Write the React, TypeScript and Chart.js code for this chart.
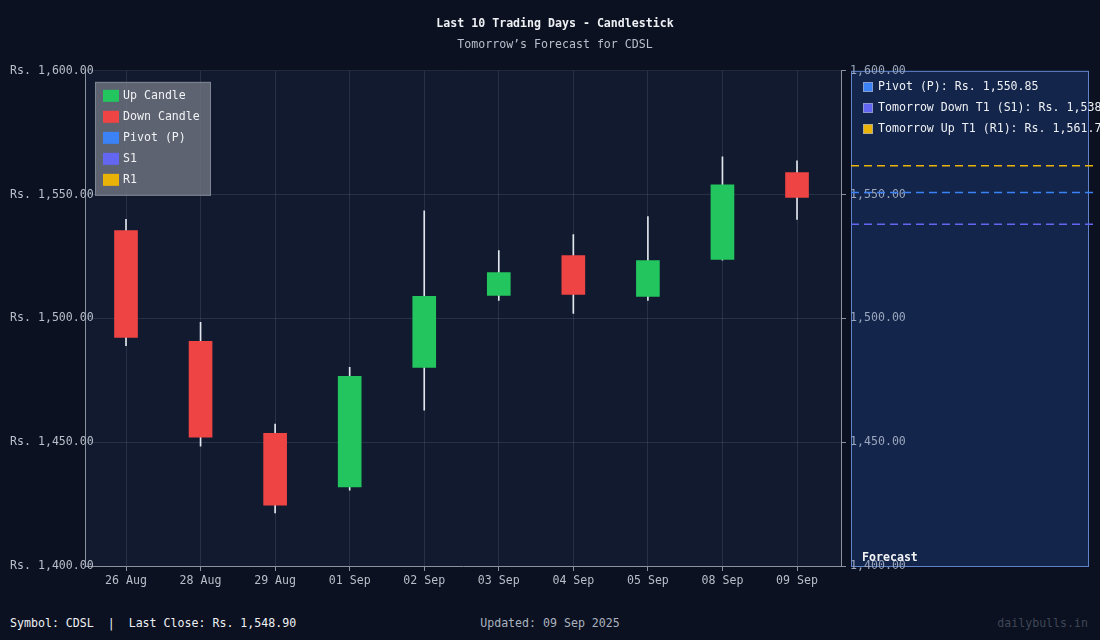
import React, { useEffect, useRef } from "react";
import { Chart, registerables } from "chart.js";

Chart.register(...registerables);

const FONT = '"DejaVu Sans Mono", monospace';
const FS = 11.6;

const dates = ["26 Aug", "28 Aug", "29 Aug", "01 Sep", "02 Sep", "03 Sep", "04 Sep", "05 Sep", "08 Sep", "09 Sep"];
const opens = [1535.5, 1490.7, 1453.6, 1431.9, 1480.2, 1509.3, 1525.4, 1508.9, 1523.8, 1558.9];
const highs = [1540.0, 1498.4, 1457.3, 1480.2, 1543.5, 1527.4, 1533.9, 1541.1, 1565.3, 1563.65];
const lows = [1489.0, 1448.4, 1421.4, 1430.6, 1462.9, 1507.3, 1502.0, 1507.3, 1523.5, 1540.0];
const closes = [1492.3, 1452.0, 1424.6, 1476.6, 1508.9, 1518.5, 1509.7, 1523.4, 1554.0, 1548.9];

const yTicks = [1400, 1450, 1500, 1550, 1600];

const forecastNames = ["Pivot (P)", "Tomorrow Down T1 (S1)", "Tomorrow Up T1 (R1)"];
const forecastValues = [1550.85, 1538.05, 1561.7];
const forecastColors = ["#3b82f6", "#6366f1", "#eab308"];

const legendNames = ["Up Candle", "Down Candle", "Pivot (P)", "S1", "R1"];
const legendColors = ["#22c55e", "#ef4444", "#3b82f6", "#6366f1", "#eab308"];

const fmt = (v: number) =>
  new Intl.NumberFormat("en-US", { minimumFractionDigits: 2, maximumFractionDigits: 2 }).format(v);

const BG = "#0b1120";
const AREA_BG = "#111a2e";
const GRID = "rgba(148,163,184,0.17)";
const AXIS = "#8b929e";
const TICK_TXT = "#b8bfca";

const decorPlugin = {
  id: "decor",
  beforeDraw(chart: any) {
    const { ctx, chartArea } = chart;
    ctx.save();
    ctx.fillStyle = BG;
    ctx.fillRect(0, 0, chart.width, chart.height);
    ctx.fillStyle = AREA_BG;
    ctx.fillRect(chartArea.left, chartArea.top, chartArea.right - chartArea.left, chartArea.bottom - chartArea.top);
    const y = chart.scales.y;
    const top = y.getPixelForValue(yTicks[yTicks.length - 1]);
    const bottom = y.getPixelForValue(yTicks[0]);
    const left = chartArea.right + 10.5;
    const right = chart.width - 11.5;
    ctx.fillStyle = "#13254a";
    ctx.fillRect(left, top, right - left, bottom - top);
    ctx.strokeStyle = "rgba(110,150,230,0.85)";
    ctx.lineWidth = 1;
    ctx.strokeRect(left, top + 0.5, right - left, bottom - top);
    ctx.restore();
  },
  afterDraw(chart: any) {
    const { ctx, chartArea } = chart;
    const y = chart.scales.y;
    const left = chartArea.right + 10;
    ctx.save();
    forecastValues.forEach((v, i) => {
      const py = y.getPixelForValue(v);
      ctx.strokeStyle = forecastColors[i];
      ctx.lineWidth = 1.5;
      ctx.setLineDash([8, 5]);
      ctx.beginPath();
      ctx.moveTo(left, py);
      ctx.lineTo(chart.width - 5, py);
      ctx.stroke();
    });
    ctx.setLineDash([]);
    ctx.font = `${FS}px ${FONT}`;
    ctx.textBaseline = "middle";
    ctx.textAlign = "left";
    forecastNames.forEach((n, i) => {
      const cy = 87 + i * 21;
      ctx.fillStyle = forecastColors[i];
      ctx.fillRect(left + 12, cy - 5, 10, 10);
      ctx.strokeStyle = "rgba(160,170,190,0.7)";
      ctx.lineWidth = 1;
      ctx.strokeRect(left + 12.5, cy - 4.5, 9, 9);
      ctx.fillStyle = "#eef0f4";
      ctx.fillText(`${n}: Rs. ${fmt(forecastValues[i])}`, left + 27, cy);
    });
    ctx.font = `bold ${FS}px ${FONT}`;
    ctx.fillStyle = "#f3f4f6";
    ctx.fillText("Forecast", left + 11, chartArea.bottom - 8);
    const bx = chartArea.left + 10;
    const by = chartArea.top + 11;
    ctx.fillStyle = "rgba(112,118,130,0.8)";
    ctx.fillRect(bx, by, 116, 114);
    ctx.strokeStyle = "rgba(150,156,168,0.6)";
    ctx.strokeRect(bx + 0.5, by + 0.5, 115, 113);
    ctx.font = `${FS}px ${FONT}`;
    legendNames.forEach((n, i) => {
      const cy = by + 14 + i * 21;
      ctx.fillStyle = legendColors[i];
      ctx.fillRect(bx + 8, cy - 6, 16, 12);
      ctx.fillStyle = "#f1f2f4";
      ctx.fillText(n, bx + 28, cy);
    });
    ctx.restore();
  },
};

export default function App() {
  const ref = useRef<HTMLCanvasElement | null>(null);

  useEffect(() => {
    document.body.style.margin = "0";
    document.body.style.background = BG;
    const idx = dates.map((_, i) => i);
    const up = idx.filter((i) => closes[i] >= opens[i]);
    const down = idx.filter((i) => closes[i] < opens[i]);
    const chart = new Chart(ref.current as HTMLCanvasElement, {
      type: "bar",
      data: {
        datasets: [
          {
            label: "Up Candle",
            data: up.map((i) => ({ x: i, y: [opens[i], closes[i]] })) as any,
            backgroundColor: "#22c55e",
            barThickness: 23,
            grouped: false,
            order: 0,
          } as any,
          {
            label: "Down Candle",
            data: down.map((i) => ({ x: i, y: [opens[i], closes[i]] })) as any,
            backgroundColor: "#ef4444",
            barThickness: 23,
            grouped: false,
            order: 0,
          } as any,
          {
            label: "Wick",
            data: idx.map((i) => ({ x: i, y: [lows[i], highs[i]] })) as any,
            backgroundColor: "#e2e6ee",
            barThickness: 1,
            grouped: false,
            order: 2,
          } as any,
        ],
      },
      options: {
        animation: false,
        responsive: false,
        maintainAspectRatio: false,
        layout: { padding: { left: 10, right: 0, top: 0, bottom: 6 } },
        plugins: {
          legend: { display: false },
          tooltip: { enabled: false },
          title: {
            display: true,
            text: "Last 10 Trading Days - Candlestick",
            color: "#eef0f4",
            font: { family: FONT, size: FS, weight: "bold" },
            padding: { top: 17, bottom: 3 },
          },
          subtitle: {
            display: true,
            text: "Tomorrow\u2019s Forecast for CDSL",
            color: "#b8bfca",
            font: { family: FONT, size: FS },
            padding: { top: 4, bottom: 19 },
          },
        },
        scales: {
          x: {
            type: "linear",
            offset: false,
            min: -0.55,
            max: 9.59,
            afterBuildTicks: (s: any) => {
              s.ticks = dates.map((_, i) => ({ value: i }));
            },
            afterFit: (s: any) => {
              s.height = 28;
            },
            ticks: {
              callback: (v: any) => dates[v as number],
              color: TICK_TXT,
              font: { family: FONT, size: FS },
              padding: 3,
              maxRotation: 0,
              autoSkip: false,
            },
            grid: { offset: false, color: GRID, tickColor: AXIS, tickLength: 5 },
            border: { color: AXIS },
          } as any,
          y: {
            type: "linear",
            position: "left",
            min: yTicks[0],
            max: yTicks[yTicks.length - 1],
            afterBuildTicks: (s: any) => {
              s.ticks = yTicks.map((v) => ({ value: v }));
            },
            afterFit: (s: any) => {
              s.width = 75;
            },
            ticks: {
              callback: (v: any) => `Rs. ${fmt(v as number)}`,
              color: TICK_TXT,
              font: { family: FONT, size: FS },
              mirror: true,
              padding: -75,
            },
            grid: { color: GRID, drawTicks: false },
            border: { color: AXIS },
          } as any,
          y2: {
            type: "linear",
            position: "right",
            min: yTicks[0],
            max: yTicks[yTicks.length - 1],
            afterBuildTicks: (s: any) => {
              s.ticks = yTicks.map((v) => ({ value: v }));
            },
            afterFit: (s: any) => {
              s.width = 259;
            },
            ticks: {
              callback: (v: any) => fmt(v as number),
              color: "#9aa6bd",
              font: { family: FONT, size: FS },
              padding: 4,
            },
            grid: { drawOnChartArea: false, color: AXIS, tickLength: 5 },
            border: { color: AXIS },
          } as any,
        },
      },
      plugins: [decorPlugin],
    });
    return () => chart.destroy();
  }, []);

  const footStyle: React.CSSProperties = {
    position: "absolute",
    top: 615,
    fontFamily: FONT,
    fontSize: FS,
    lineHeight: "16px",
    whiteSpace: "pre",
  };

  return (
    <div style={{ position: "relative", width: 1100, height: 640, background: BG, overflow: "hidden" }}>
      <canvas ref={ref} width={1100} height={600} style={{ display: "block", width: 1100, height: 600 }} />
      <span style={{ ...footStyle, left: 10, color: "#eef0f4" }}>{"Symbol: CDSL  |  Last Close: Rs. 1,548.90"}</span>
      <span style={{ ...footStyle, left: 0, width: 1100, textAlign: "center", color: "#aab2bf" }}>
        {"Updated: 09 Sep 2025"}
      </span>
      <span style={{ ...footStyle, right: 12, color: "#3f4756" }}>{"dailybulls.in"}</span>
    </div>
  );
}
